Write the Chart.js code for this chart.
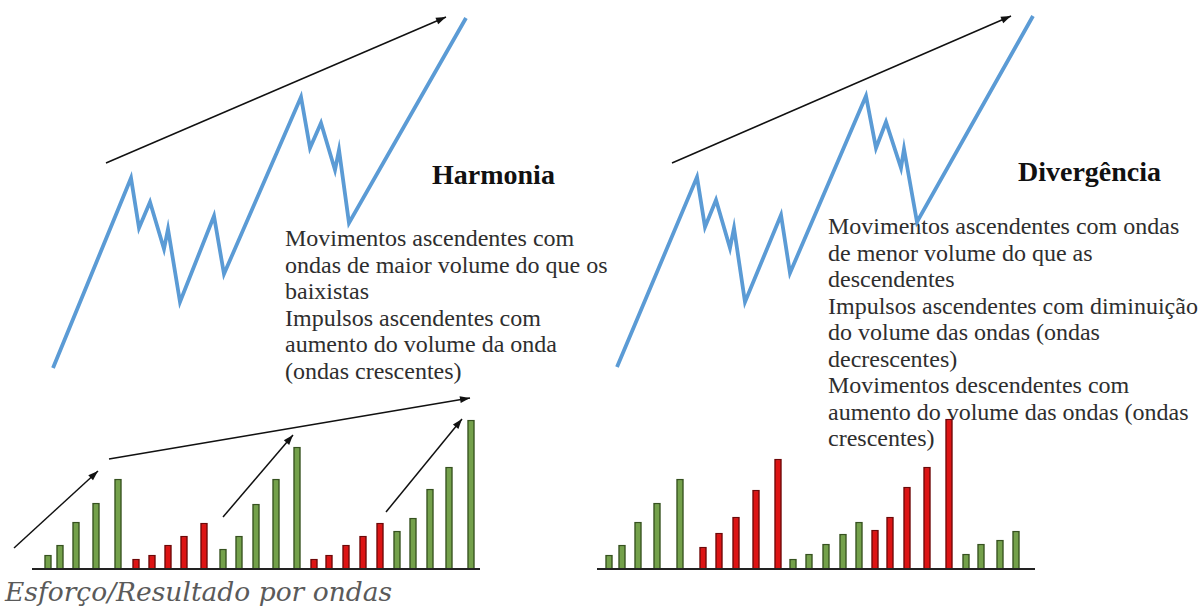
<!DOCTYPE html>
<html lang="pt">
<head>
<meta charset="utf-8">
<title>Esforço/Resultado por ondas</title>
<script src="https://cdn.jsdelivr.net/npm/chart.js@4.4.1/dist/chart.umd.min.js"></script>
<style>
    html, body { margin: 0; padding: 0; background: #fff; }
    #wrap { position: relative; width: 1200px; height: 610px; overflow: hidden; }
    #chart { position: absolute; left: 0; top: 0; z-index: 1; }
    .txt {
        position: absolute;
        z-index: 0;
        font-family: "Liberation Serif", "Times New Roman", "DejaVu Serif", serif;
        white-space: nowrap;
        color: #2e2e2e;
    }
    .title { font-weight: bold; font-size: 28px; line-height: 28px; color: #111; }
    .body { font-size: 24px; line-height: 26.5px; }
    .caption {
        font-family: "DejaVu Serif", serif;
        font-style: italic;
        font-size: 26.5px;
        line-height: 30px;
        color: #5a5a5a;
    }
</style>
</head>
<body>
<div id="wrap">
    <div class="txt title" style="left:432px; top:161px;">Harmonia</div>
    <div class="txt body" style="left:285px; top:225px;">Movimentos ascendentes com<br>ondas de maior volume do que os<br>baixistas<br>Impulsos ascendentes com<br>aumento do volume da onda<br>(ondas crescentes)</div>
    <div class="txt title" style="left:1018px; top:158px;">Divergência</div>
    <div class="txt body" style="left:828px; top:213px;">Movimentos ascendentes com ondas<br>de menor volume do que as<br>descendentes<br>Impulsos ascendentes com diminuição<br>do volume das ondas (ondas<br>decrescentes)<br>Movimentos descendentes com<br>aumento do volume das ondas (ondas<br>crescentes)</div>
    <div class="txt caption" style="left:5px; top:577px;">Esforço/Resultado por ondas</div>
    <canvas id="chart" width="1200" height="610"></canvas>
</div>
<script>
// price path, left panel (harmonia)
const priceLeftX = [53, 131, 139, 150, 164, 168, 180, 214, 224, 301, 310, 321, 335, 339, 349, 466];
const priceLeftY = [201, 391, 341, 367, 320, 340, 267, 353, 295, 472, 421, 446, 399, 419, 346, 551];

// price path, right panel (divergência)
const priceRightX = [617, 697, 705, 716, 730, 734, 745, 781, 790, 866, 876, 886, 901, 904, 917, 1033];
const priceRightY = [202, 392, 342, 369, 321, 341, 267, 354, 296, 473, 421, 447, 401, 420, 347, 553];

// volume waves, "u" = up wave (green), "d" = down wave (red)
const volLeftX = [48, 60, 76, 96, 118, 136, 152, 168, 184, 204, 223, 239, 256, 276, 297,
    314, 329, 346, 363, 380, 397, 413, 430, 449, 471];
const volLeftY = [14, 24, 47, 66, 90, 10, 14, 24, 33, 46, 20, 33, 65, 90, 122,
    10, 14, 24, 33, 46, 38, 51, 80, 102, 149];
const volLeftDir = ["u", "u", "u", "u", "u", "d", "d", "d", "d", "d", "u", "u", "u", "u", "u",
    "d", "d", "d", "d", "d", "u", "u", "u", "u", "u"];

const volRightX = [609, 622, 638, 657, 680, 703, 719, 736, 756, 778, 793, 809, 826, 843, 859,
    875, 890, 907, 927, 949, 966, 981, 1000, 1016];
const volRightY = [14, 24, 47, 66, 90, 22, 36, 52, 79, 110, 10, 15, 25, 35, 47,
    39, 52, 82, 102, 150, 15, 25, 29, 38];
const volRightDir = ["u", "u", "u", "u", "u", "d", "d", "d", "d", "d", "u", "u", "u", "u", "u",
    "d", "d", "d", "d", "d", "u", "u", "u", "u"];

// trend arrows: [x0, y0, x1, y1], head at the second point
const trendArrows = [
    [106, 406, 446, 552],
    [672, 406, 1011, 553],
    [14, 21, 98, 98],
    [109, 110, 470, 171],
    [223, 52, 293, 134],
    [386, 57, 462, 150],
];

// volume axis lines
const axisLines = [
    [32, 480],
    [597, 1035],
];

const BLUE = "#5b9bd5";
const GREEN = "#74a14b";
const GREEN_EDGE = "#36521f";
const RED = "#dd1414";
const RED_EDGE = "#6e0808";

const zip = (xs, ys) => xs.map((x, i) => ({ x: x, y: ys[i] }));

const priceDataset = (xs, ys) => ({
    type: "line",
    data: zip(xs, ys),
    borderColor: BLUE,
    borderWidth: 3.8,
    pointRadius: 0,
    tension: 0,
    borderJoinStyle: "miter",
    order: 2,
});

const volumeDataset = (xs, ys, dirs) => ({
    type: "bar",
    data: zip(xs, ys),
    grouped: false,
    barThickness: 7,
    borderWidth: 1.5,
    borderSkipped: "start",
    backgroundColor: (ctx) => (dirs[ctx.dataIndex] === "u" ? GREEN : RED),
    borderColor: (ctx) => (dirs[ctx.dataIndex] === "u" ? GREEN_EDGE : RED_EDGE),
    order: 1,
});

const arrowDatasets = trendArrows.map((a) => ({
    type: "line",
    data: [{ x: a[0], y: a[1] }, { x: a[2], y: a[3] }],
    borderColor: "#111",
    borderWidth: 1.5,
    pointRadius: 0,
    arrow: true,
    order: 0,
}));

const axisDatasets = axisLines.map((l) => ({
    type: "line",
    data: [{ x: l[0], y: 0 }, { x: l[1], y: 0 }],
    borderColor: "#222",
    borderWidth: 2,
    pointRadius: 0,
    order: 0,
}));

// filled heads for the trend arrows
const arrowHeads = {
    id: "arrowHeads",
    afterDatasetsDraw(chart) {
        const ctx = chart.ctx;
        chart.data.datasets.forEach((ds, i) => {
            if (!ds.arrow) return;
            const pts = chart.getDatasetMeta(i).data;
            const p0 = pts[0];
            const p1 = pts[pts.length - 1];
            const ang = Math.atan2(p1.y - p0.y, p1.x - p0.x);
            const len = 10;
            const half = 3.5;
            ctx.save();
            ctx.fillStyle = ds.borderColor;
            ctx.translate(p1.x, p1.y);
            ctx.rotate(ang);
            ctx.beginPath();
            ctx.moveTo(0, 0);
            ctx.lineTo(-len, -half);
            ctx.lineTo(-len, half);
            ctx.closePath();
            ctx.fill();
            ctx.restore();
        });
    },
};

new Chart(document.getElementById("chart"), {
    type: "bar",
    data: {
        datasets: [
            priceDataset(priceLeftX, priceLeftY),
            priceDataset(priceRightX, priceRightY),
            volumeDataset(volLeftX, volLeftY, volLeftDir),
            volumeDataset(volRightX, volRightY, volRightDir),
            ...axisDatasets,
            ...arrowDatasets,
        ],
    },
    options: {
        responsive: false,
        animation: false,
        layout: { padding: 0 },
        plugins: {
            legend: { display: false },
            tooltip: { enabled: false },
        },
        scales: {
            x: {
                type: "linear",
                min: 0,
                max: 1200,
                offset: false,
                display: false,
            },
            y: {
                type: "linear",
                min: -41,
                max: 569,
                display: false,
            },
        },
    },
    plugins: [arrowHeads],
});
</script>
</body>
</html>
